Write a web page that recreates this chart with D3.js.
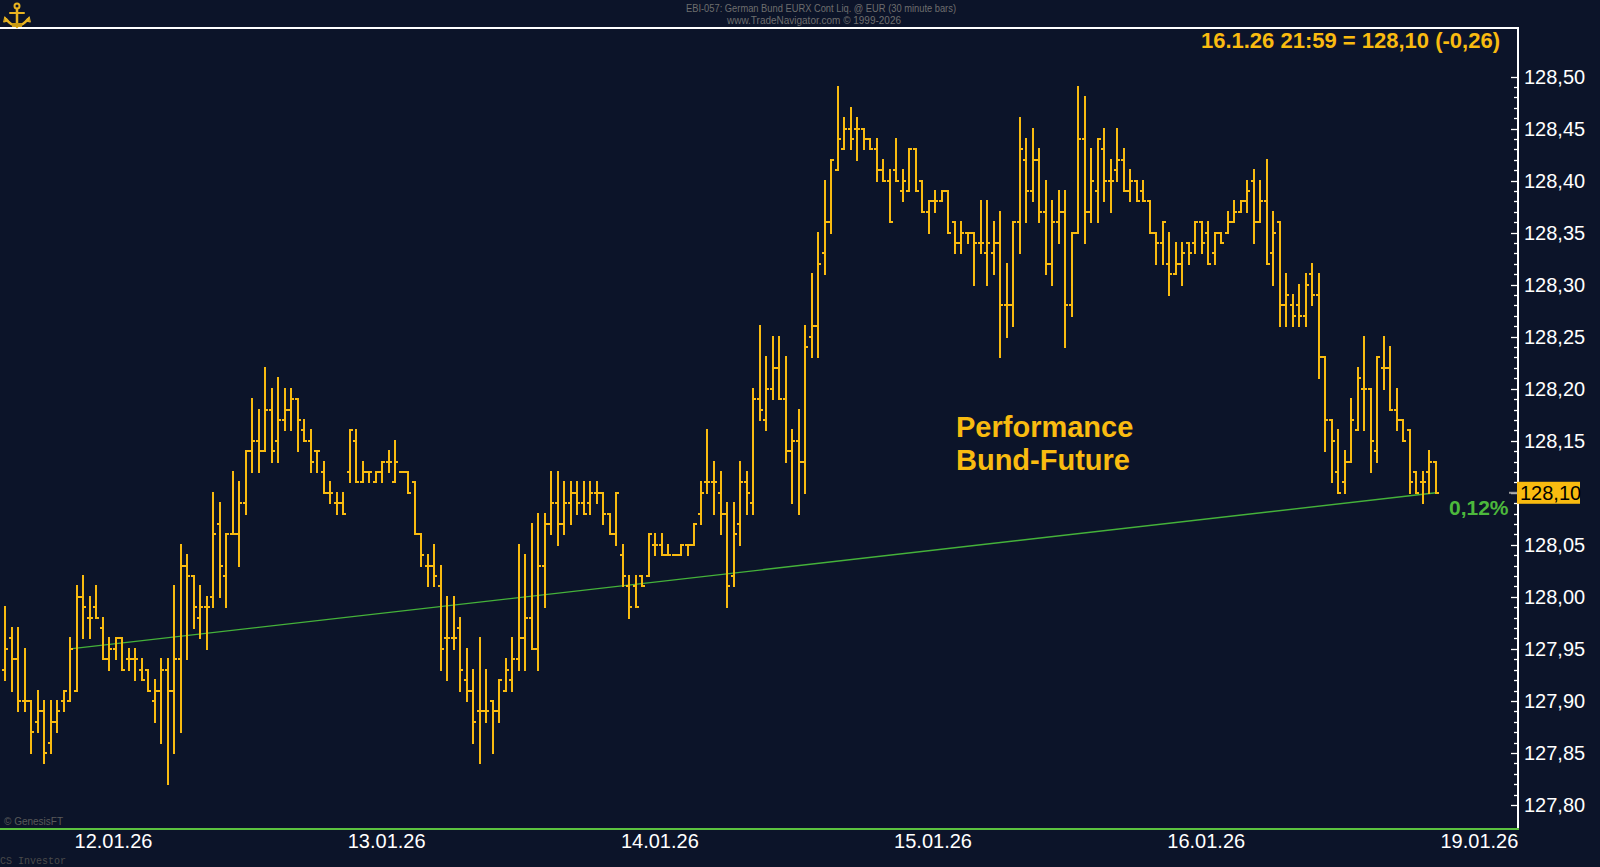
<!DOCTYPE html>
<html>
<head>
<meta charset="utf-8">
<script src="https://cdn.jsdelivr.net/npm/d3@7"></script>
<style>
  html, body { margin: 0; padding: 0; background: #0c1429; overflow: hidden; }
  svg { display: block; }
</style>
</head>
<body>
<svg id="chart" width="1600" height="867"></svg>
<script>
// ---------------- DATA (30-minute OHLC bars, 09.01.26 16:30 → 16.01.26 22:00) ----------------
const open = [
127.93,127.96,127.94,127.90,127.90,127.88,127.89,127.86,127.88,127.90,127.90,
127.91,128.00,127.98,127.99,127.97,127.94,127.95,127.96,127.94,127.94,127.93,127.93,127.90,127.91,127.93,127.91,127.94,128.03,128.02,127.98,127.99,128.00,128.07,128.02,128.06,128.06,128.09,128.14,128.15,128.14,128.18,128.15,128.17,128.18,128.19,128.16,128.15,128.14,128.12,128.10,128.09,128.09,
128.12,128.15,128.11,128.12,128.11,128.12,128.13,128.11,128.12,128.12,128.11,128.06,128.03,128.03,128.01,127.96,127.96,127.97,127.92,127.91,127.89,127.89,127.90,127.89,127.91,127.92,127.94,127.96,127.98,127.95,128.03,128.07,128.09,128.07,128.09,128.10,128.09,128.09,128.10,128.10,128.08,128.06,
128.04,128.01,128.01,128.02,128.02,128.05,128.05,128.04,128.04,128.04,128.05,128.05,128.08,128.11,128.11,128.10,128.08,128.02,128.07,128.11,128.09,128.19,128.17,128.20,128.22,128.19,128.14,128.15,128.13,128.25,128.26,128.33,128.36,128.41,128.43,128.45,128.45,128.45,128.44,128.43,128.41,128.40,
128.41,128.39,128.39,128.43,128.40,128.37,128.38,128.38,128.39,128.36,128.34,128.35,128.35,128.34,128.33,128.33,128.34,128.28,128.28,128.36,128.42,128.39,128.42,128.37,128.32,128.36,128.37,128.28,128.35,128.44,128.37,128.39,128.43,128.40,128.41,128.42,128.39,128.40,128.39,128.38,128.35,
128.34,128.32,128.31,128.32,128.34,128.34,128.36,128.35,128.33,128.35,128.35,128.36,128.37,128.38,128.40,128.36,128.38,128.33,128.36,128.28,128.28,128.28,128.27,128.31,128.29,128.23,128.17,128.12,128.11,128.13,128.16,128.20,128.20,128.14,128.22,128.22,128.18,128.17,128.16,128.12,128.11,128.12,128.13
];
const high = [
127.99,127.97,127.97,127.95,127.90,127.91,127.90,127.90,127.90,127.91,127.96,
128.01,128.02,128.00,128.01,127.98,127.96,127.96,127.96,127.95,127.95,127.94,127.93,127.92,127.94,127.94,128.01,128.05,128.04,128.02,128.01,128.00,128.10,128.09,128.06,128.12,128.11,128.14,128.19,128.18,128.22,128.20,128.21,128.20,128.20,128.19,128.17,128.16,128.14,128.13,128.11,128.10,128.10,
128.16,128.16,128.13,128.12,128.12,128.13,128.14,128.15,128.12,128.12,128.11,128.06,128.04,128.05,128.03,128.00,128.00,127.98,127.95,127.93,127.96,127.93,127.90,127.92,127.94,127.96,128.05,128.04,128.07,128.08,128.08,128.12,128.12,128.11,128.11,128.11,128.11,128.11,128.11,128.10,128.08,128.10,
128.05,128.02,128.02,128.02,128.06,128.06,128.06,128.05,128.04,128.05,128.05,128.07,128.11,128.16,128.13,128.12,128.09,128.09,128.13,128.12,128.20,128.26,128.23,128.25,128.25,128.23,128.16,128.18,128.26,128.31,128.35,128.40,128.42,128.49,128.46,128.47,128.46,128.45,128.44,128.44,128.42,128.41,
128.44,128.41,128.43,128.43,128.40,128.38,128.39,128.39,128.39,128.36,128.36,128.35,128.35,128.38,128.38,128.36,128.37,128.32,128.36,128.46,128.44,128.45,128.43,128.40,128.38,128.39,128.39,128.35,128.49,128.48,128.43,128.44,128.45,128.42,128.45,128.43,128.41,128.40,128.40,128.38,128.35,
128.36,128.35,128.34,128.34,128.34,128.36,128.36,128.36,128.35,128.35,128.37,128.38,128.38,128.40,128.41,128.40,128.42,128.37,128.36,128.31,128.29,128.30,128.31,128.32,128.31,128.23,128.17,128.16,128.14,128.19,128.22,128.25,128.20,128.23,128.25,128.24,128.20,128.17,128.16,128.12,128.12,128.14,128.13
];
const low = [
127.92,127.91,127.89,127.89,127.85,127.87,127.84,127.85,127.87,127.89,127.90,
127.91,127.96,127.96,127.98,127.94,127.93,127.94,127.93,127.93,127.92,127.92,127.91,127.88,127.86,127.82,127.85,127.87,127.94,127.97,127.96,127.95,127.99,128.00,127.99,128.06,128.03,128.08,128.12,128.12,128.14,128.13,128.13,128.16,128.16,128.14,128.15,128.12,128.12,128.10,128.09,128.08,128.08,
128.11,128.11,128.11,128.11,128.11,128.11,128.12,128.11,128.12,128.10,128.06,128.03,128.01,128.01,127.93,127.92,127.95,127.91,127.90,127.86,127.84,127.88,127.85,127.88,127.91,127.91,127.93,127.93,127.95,127.93,127.99,128.06,128.05,128.06,128.07,128.08,128.08,128.08,128.09,128.07,128.06,128.05,
128.01,127.98,127.99,128.01,128.02,128.04,128.04,128.04,128.04,128.04,128.04,128.05,128.07,128.10,128.08,128.06,127.99,128.01,128.05,128.08,128.08,128.17,128.16,128.19,128.19,128.13,128.09,128.08,128.10,128.23,128.23,128.31,128.35,128.41,128.43,128.43,128.42,128.43,128.43,128.40,128.40,128.36,
128.40,128.38,128.39,128.39,128.37,128.35,128.37,128.38,128.35,128.33,128.33,128.34,128.30,128.33,128.30,128.31,128.23,128.25,128.26,128.33,128.36,128.38,128.36,128.31,128.30,128.34,128.24,128.27,128.35,128.34,128.36,128.36,128.38,128.37,128.40,128.39,128.38,128.38,128.38,128.35,128.32,
128.32,128.29,128.31,128.30,128.32,128.33,128.33,128.32,128.32,128.34,128.35,128.36,128.37,128.37,128.34,128.36,128.32,128.30,128.26,128.26,128.26,128.26,128.26,128.28,128.21,128.14,128.11,128.10,128.10,128.13,128.16,128.16,128.12,128.13,128.20,128.18,128.16,128.15,128.10,128.10,128.09,128.10,128.10
];
const close = [
127.95,127.94,127.90,127.90,127.87,127.89,127.85,127.88,127.89,127.91,127.95,
128.00,127.99,127.98,127.98,127.94,127.95,127.96,127.93,127.94,127.94,127.92,127.91,127.91,127.93,127.91,127.94,128.03,128.02,127.99,127.99,127.99,128.06,128.03,128.06,128.06,128.09,128.14,128.15,128.14,128.18,128.14,128.17,128.18,128.19,128.17,128.15,128.13,128.14,128.10,128.10,128.09,128.08,
128.16,128.11,128.12,128.12,128.12,128.13,128.13,128.13,128.12,128.10,128.06,128.04,128.03,128.02,127.95,127.96,127.96,127.93,127.91,127.88,127.89,127.89,127.89,127.92,127.93,127.94,127.96,127.98,127.95,128.03,128.07,128.09,128.07,128.09,128.10,128.09,128.08,128.10,128.10,128.08,128.06,128.10,
128.02,127.99,127.99,128.01,128.06,128.05,128.04,128.04,128.04,128.05,128.05,128.07,128.10,128.11,128.11,128.08,128.01,128.06,128.11,128.10,128.19,128.18,128.20,128.22,128.19,128.14,128.15,128.13,128.24,128.26,128.32,128.36,128.42,128.44,128.45,128.44,128.45,128.44,128.43,128.41,128.40,128.36,
128.40,128.40,128.43,128.39,128.37,128.38,128.38,128.39,128.35,128.34,128.35,128.35,128.34,128.34,128.34,128.34,128.28,128.28,128.36,128.43,128.39,128.42,128.37,128.32,128.36,128.37,128.28,128.35,128.44,128.37,128.40,128.44,128.40,128.40,128.42,128.39,128.40,128.38,128.38,128.35,128.34,
128.36,128.31,128.32,128.33,128.33,128.36,128.34,128.32,128.35,128.34,128.36,128.37,128.38,128.39,128.36,128.38,128.32,128.35,128.28,128.29,128.27,128.27,128.30,128.29,128.23,128.17,128.15,128.10,128.13,128.17,128.21,128.20,128.15,128.23,128.22,128.18,128.17,128.15,128.11,128.10,128.11,128.13,128.10
];

// Day labels: bar index where each session (01:00) starts
const dayLabels = ["12.01.26", "13.01.26", "14.01.26", "15.01.26", "16.01.26", "19.01.26"];
const dayStartIndex = [11, 53, 95, 137, 179, 221];

// Price axis
const yMin = 127.80, yMax = 128.50;
const majorStep = 0.05, minorStep = 0.01;

// Performance line: from previous week's close (index 10) to last close
const perfStartIndex = 10;
const perfLabel = "0,12%";

const headerText = "16.1.26 21:59 = 128,10 (-0,26)";
const titleLine1 = "EBI-057:  German Bund EURX Cont Liq. @ EUR  (30 minute bars)";
const titleLine2 = "www.TradeNavigator.com © 1999-2026";
const noteLines = ["Performance", "Bund-Future"];

// ---------------- DRAW ----------------
const BG = "#0c1429", ORANGE = "#f9bb10", GREEN = "#45b23a", WHITE = "#ffffff";
const FONT = "'Liberation Sans', Arial, Helvetica, sans-serif";
const svg = d3.select("#chart");

svg.append("rect").attr("width", 1600).attr("height", 867).attr("fill", BG);

const n = close.length;
const x = d3.scaleLinear().domain([0, 220]).range([5, 1436]);
const y = d3.scaleLinear().domain([yMin, yMax]).range([805, 76.5]);

const axisX = 1518, topY = 28, bottomY = 829;
const fmt = d3.formatLocale({decimal: ",", thousands: ".", grouping: [3], currency: ["", "€"]}).format(".2f");

// frame lines
svg.append("line").attr("x1", 0).attr("x2", axisX + 1).attr("y1", topY).attr("y2", topY)
   .attr("stroke", WHITE).attr("stroke-width", 2);
svg.append("line").attr("x1", axisX).attr("x2", axisX).attr("y1", topY).attr("y2", bottomY)
   .attr("stroke", WHITE).attr("stroke-width", 2);
svg.append("line").attr("x1", 0).attr("x2", axisX + 1).attr("y1", bottomY).attr("y2", bottomY)
   .attr("stroke", "#5cc23f").attr("stroke-width", 2);

// y ticks
const minorTicks = d3.range(Math.round((yMax - yMin) / minorStep) + 1).map(i => +(yMin + i * minorStep).toFixed(2));
svg.append("g").selectAll("line").data(minorTicks).join("line")
  .attr("x1", (d, i) => i % 5 === 0 ? axisX - 7 : axisX - 4)
  .attr("x2", axisX)
  .attr("y1", d => Math.round(y(d)) + 0.5).attr("y2", d => Math.round(y(d)) + 0.5)
  .attr("stroke", WHITE).attr("stroke-width", 1.3);

// major labels (the one under the last-price box is hidden by it)
const lastClose = close[n - 1];
const majorTicks = d3.range(Math.round((yMax - yMin) / majorStep) + 1).map(i => +(yMin + i * majorStep).toFixed(2))
  .filter(d => Math.abs(d - lastClose) > 0.015);
svg.append("g").selectAll("text").data(majorTicks).join("text")
  .attr("x", axisX + 6).attr("y", d => y(d) + 7)
  .attr("fill", WHITE).attr("font-family", FONT).attr("font-size", 20)
  .text(d => fmt(d));

// x labels
svg.append("g").selectAll("text").data(dayLabels).join("text")
  .attr("x", (d, i) => x(dayStartIndex[i]) - 2).attr("y", 848)
  .attr("fill", WHITE).attr("font-family", FONT).attr("font-size", 20)
  .text(d => d);

// performance line
svg.append("line")
  .attr("x1", x(perfStartIndex)).attr("y1", y(close[perfStartIndex]))
  .attr("x2", x(n - 1)).attr("y2", y(close[n - 1]))
  .attr("stroke", GREEN).attr("stroke-width", 1.4);

// OHLC bars
const bars = svg.append("g").attr("shape-rendering", "crispEdges");
const idx = d3.range(n);
bars.selectAll("rect.hl").data(idx).join("rect").attr("class", "hl")
  .attr("x", i => Math.round(x(i)) - 1).attr("width", 2)
  .attr("y", i => Math.round(y(high[i])) - 1)
  .attr("height", i => Math.max(2, Math.round(y(low[i])) - Math.round(y(high[i])) + 2))
  .attr("fill", ORANGE);
bars.selectAll("rect.op").data(idx).join("rect").attr("class", "op")
  .attr("x", i => Math.round(x(i)) - 3).attr("width", 2)
  .attr("y", i => Math.round(y(open[i])) - 1).attr("height", 2)
  .attr("fill", ORANGE);
bars.selectAll("rect.cl").data(idx).join("rect").attr("class", "cl")
  .attr("x", i => Math.round(x(i)) + 1).attr("width", 2)
  .attr("y", i => Math.round(y(close[i])) - 1).attr("height", 2)
  .attr("fill", ORANGE);

// last price marker
const lastY = y(lastClose);
svg.append("line").attr("x1", axisX - 9).attr("x2", axisX - 1).attr("y1", lastY).attr("y2", lastY)
  .attr("stroke", "#9a9a9a").attr("stroke-width", 2);
svg.append("rect").attr("x", axisX - 1).attr("y", lastY - 11).attr("width", 63).attr("height", 22)
  .attr("fill", ORANGE);
svg.append("text").attr("x", axisX + 2).attr("y", lastY + 7)
  .attr("fill", "#000").attr("font-family", FONT).attr("font-size", 20).text(fmt(lastClose));

// performance label
svg.append("text").attr("x", 1449).attr("y", lastY + 22)
  .attr("fill", "#4cb83c").attr("font-family", FONT).attr("font-weight", "bold").attr("font-size", 21)
  .text(perfLabel);

// annotation
svg.append("g").selectAll("text").data(noteLines).join("text")
  .attr("x", 956).attr("y", (d, i) => 437 + i * 33)
  .attr("fill", ORANGE).attr("font-family", FONT).attr("font-weight", "bold").attr("font-size", 29)
  .text(d => d);

// header
svg.append("text").attr("x", 1500).attr("y", 48).attr("text-anchor", "end")
  .attr("fill", ORANGE).attr("font-family", FONT).attr("font-weight", "bold").attr("font-size", 22)
  .text(headerText);

svg.append("text").attr("x", 821).attr("y", 12).attr("text-anchor", "middle")
  .attr("fill", "#6e6e6e").attr("font-family", "'Liberation Sans Narrow', " + FONT).attr("font-size", 11)
  .attr("textLength", 270).attr("lengthAdjust", "spacingAndGlyphs").text(titleLine1);
svg.append("text").attr("x", 814).attr("y", 24).attr("text-anchor", "middle")
  .attr("fill", "#6e6e6e").attr("font-family", "'Liberation Sans Narrow', " + FONT).attr("font-size", 11)
  .attr("textLength", 174).attr("lengthAdjust", "spacingAndGlyphs").text(titleLine2);

// footers
svg.append("text").attr("x", 4).attr("y", 825)
  .attr("fill", "#5a5a5a").attr("font-family", FONT).attr("font-size", 10).text("© GenesisFT");
svg.append("text").attr("x", 0).attr("y", 864)
  .attr("fill", "#4a4a4a").attr("font-family", "'Liberation Mono', 'Courier New', monospace").attr("font-size", 10)
  .text("CS Investor");

// logo (golden anchor emblem)
const logo = svg.append("g").attr("transform", "translate(17,15)")
  .attr("stroke", "#e8b320").attr("fill", "none").attr("stroke-linecap", "round");
logo.append("circle").attr("cx", 0).attr("cy", -9).attr("r", 2.5).attr("stroke-width", 2);
logo.append("line").attr("x1", 0).attr("y1", -6).attr("x2", 0).attr("y2", 12).attr("stroke-width", 2.5);
logo.append("line").attr("x1", -7).attr("y1", -2).attr("x2", 7).attr("y2", -2).attr("stroke-width", 2);
logo.append("path").attr("d", "M-11,4 Q0,18 11,4").attr("stroke-width", 2.5);
logo.append("path").attr("d", "M-12,2 L-9,6 L-13,7 Z M12,2 L9,6 L13,7 Z").attr("fill", "#e8b320").attr("stroke-width", 1);
logo.append("rect").attr("x", -5).attr("y", 8).attr("width", 10).attr("height", 4).attr("fill", "#c99a12").attr("stroke", "none");
</script>
</body>
</html>
